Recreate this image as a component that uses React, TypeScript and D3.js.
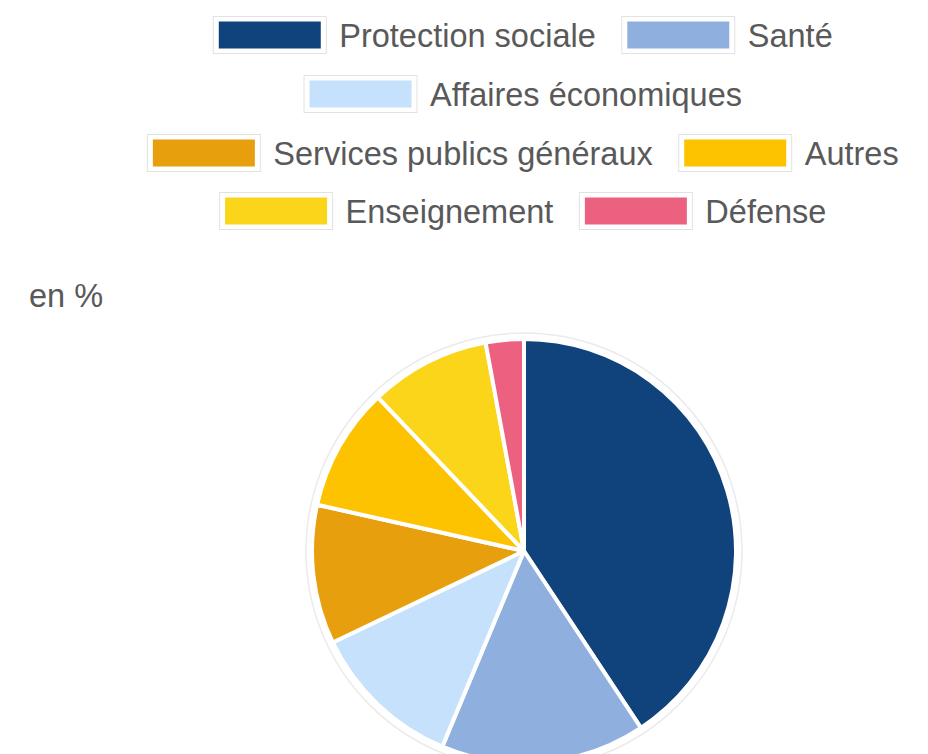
import React from "react";
import * as d3 from "d3";

const categories = [
  "Protection sociale",
  "Santé",
  "Affaires économiques",
  "Services publics généraux",
  "Autres",
  "Enseignement",
  "Défense",
];
const values = [40.7, 15.6, 11.6, 10.6, 9.4, 9.2, 2.9];
const colors = ["#10427b", "#8fb0de", "#c5e1fc", "#e89f0e", "#fdc300", "#fad51a", "#ec6180"];
const legendRows = [[0, 1], [2], [3, 4], [5, 6]];
const unitLabel = "en %";

const W = 928;
const H = 754;
const FONT = "Helvetica, Arial, 'Liberation Sans', sans-serif";
const FS = 32.5;

function textWidth(s: string): number {
  if (typeof document === "undefined") return s.length * 15;
  const c = document.createElement("canvas");
  const ctx = c.getContext("2d")!;
  ctx.font = `${FS}px ${FONT}`;
  return ctx.measureText(s).width;
}

export default function App() {
  const cx = 524;
  const cy = 551;
  const r = 212;
  const pie = d3.pie<number>().sort(null).value((d) => d);
  const arcs = pie(values);
  const arcGen = d3.arc<d3.PieArcDatum<number>>().innerRadius(0).outerRadius(r);

  const boxW = 113, boxH = 37, innerW = 102, innerH = 27;
  const gapText = 13, gapItem = 26;
  const rowY = [35, 94, 153, 211];
  const centerX = 523;

  const legend = legendRows.map((row, ri) => {
    const widths = row.map((i) => boxW + gapText + textWidth(categories[i]));
    const total = widths.reduce((a, b) => a + b, 0) + gapItem * (row.length - 1);
    let x = centerX - total / 2;
    return row.map((i, k) => {
      const x0 = x;
      x += widths[k] + gapItem;
      const y = rowY[ri];
      return (
        <g key={i}>
          <rect x={x0} y={y - boxH / 2} width={boxW} height={boxH} fill="#fff" stroke="#e2e2e2" strokeWidth={1} />
          <rect x={x0 + (boxW - innerW) / 2} y={y - innerH / 2} width={innerW} height={innerH} fill={colors[i]} />
          <text x={x0 + boxW + gapText} y={y} dy="0.36em" fontSize={FS} fill="#595959" fontFamily={FONT}>
            {categories[i]}
          </text>
        </g>
      );
    });
  });

  return (
    <svg width={W} height={H} style={{ position: "absolute", left: 0, top: 0 }}>
      <rect width={W} height={H} fill="#fff" />
      {legend}
      <text x={29} y={295} dy="0.36em" fontSize={FS} fill="#595959" fontFamily={FONT}>
        {unitLabel}
      </text>
      <circle cx={cx} cy={cy} r={r + 6} fill="#fff" stroke="#ebebeb" strokeWidth={1.5} />
      <g transform={`translate(${cx},${cy})`}>
        {arcs.map((a, i) => (
          <path key={i} d={arcGen(a) || ""} fill={colors[i]} stroke="#fff" strokeWidth={4} strokeLinejoin="round" />
        ))}
      </g>
    </svg>
  );
}
